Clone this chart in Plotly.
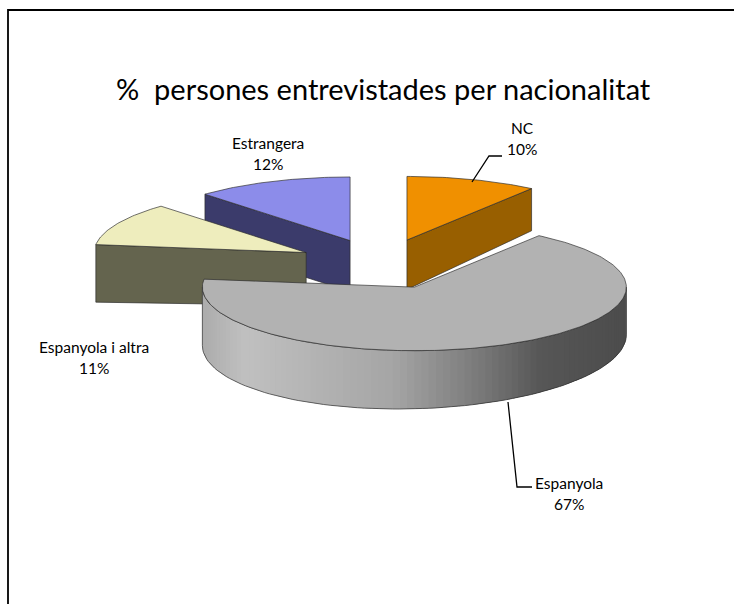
import numpy as np
import plotly.graph_objects as go

# ---------------- data ----------------
categories = ["NC", "Espanyola", "Espanyola i altra", "Estrangera"]
values = [10, 67, 11, 12]
title_text = "%  persones entrevistades per nacionalitat"

# ---------------- styles / geometry ----------------
top_colors = {"NC": (240, 144, 0), "Espanyola": (178, 178, 178),
              "Espanyola i altra": (238, 237, 189), "Estrangera": (140, 140, 234)}
side_colors = {"NC": (152, 95, 0), "Espanyola": (150, 150, 150),
               "Espanyola i altra": (100, 100, 78), "Estrangera": (59, 59, 107)}
W, H = 734, 604
CX, CY = 381, 264          # pie centre (pixel space)
RX, K = 212, 0.30          # horizontal radius, tilt ratio
RY = RX * K
EXPLODE = 84
EDGE = "rgba(45,45,45,0.85)"
FONT = "Lato"
LABEL_SIZE = 15.5

def height_at(x, y):
    return 52 - 0.025 * (x - CX) + 0.08 * (y - CY)

def rgb(c):
    return "rgb(%d,%d,%d)" % tuple(int(round(v)) for v in c)

total = float(sum(values))
angles = np.cumsum([0] + [v / total * 360 for v in values])

fig = go.Figure()

def poly(xs, ys, fill, line=EDGE, lw=0.8):
    fig.add_trace(go.Scatter(x=list(xs) + [xs[0]], y=list(ys) + [ys[0]], mode="lines",
                             fill="toself", fillcolor=fill,
                             line=dict(color=line, width=lw),
                             hoverinfo="skip", showlegend=False))

def gray_shade(th):
    # brightness by horizontal position on the front wall
    t = (np.sin(np.radians(th)) + 1) / 2
    tp = [0.0, 0.1, 0.45, 0.65, 0.8, 1.0]
    bp = [172, 192, 165, 122, 86, 76]
    return float(np.interp(t, tp, bp))

slices = []
for i, cat in enumerate(categories):
    a0, a1 = angles[i], angles[i + 1]
    b = np.radians((a0 + a1) / 2)
    cx = CX + EXPLODE * np.sin(b)
    cy = CY - EXPLODE * K * np.cos(b)
    slices.append((cat, a0, a1, cx, cy))

def P(cx, cy, th):
    r = np.radians(th)
    return cx + RX * np.sin(r), cy - RY * np.cos(r)

# painter order: back to front
order = ["NC", "Estrangera", "Espanyola i altra", "Espanyola"]
for cat in order:
    _, a0, a1, cx, cy = [s for s in slices if s[0] == cat][0]
    # outer curved wall (front half only)
    w0, w1 = max(a0, 90), min(a1, 270)
    if w1 > w0:
        n = int((w1 - w0) / 2) + 2
        ths = np.linspace(w0, w1, n + 1)
        step = ths[1] - ths[0]
        for j in range(n):
            t0, t1 = ths[j], min(ths[j + 1] + 0.8 * step, w1)
            x0, y0 = P(cx, cy, t0)
            x1, y1 = P(cx, cy, t1)
            xm, ym = P(cx, cy, (t0 + t1) / 2)
            if cat == "Espanyola":
                v = gray_shade((ths[j] + ths[j + 1]) / 2)
                col = rgb((v, v, v))
            else:
                col = rgb(side_colors[cat])
            fig.add_trace(go.Scatter(
                x=[x0, xm, x1, x1, xm, x0, x0],
                y=[y0, ym, y1, y1 + height_at(x1, y1), ym + height_at(xm, ym),
                   y0 + height_at(x0, y0), y0],
                mode="none", fill="toself", fillcolor=col,
                hoverinfo="skip", showlegend=False))
        tx, ty = zip(*[P(cx, cy, t) for t in ths])
        bx = list(tx)[::-1]
        by = [y + height_at(x, y) for x, y in zip(tx, ty)][::-1]
        fig.add_trace(go.Scatter(x=list(tx) + bx + [tx[0]], y=list(ty) + by + [ty[0]],
                                 mode="lines", line=dict(color=EDGE, width=0.8),
                                 hoverinfo="skip", showlegend=False))
    # radial cut faces
    for th, vis in ((a1, np.sin(np.radians(a1)) > 0.01), (a0, np.sin(np.radians(a0)) < -0.01)):
        if vis:
            ex, ey = P(cx, cy, th)
            poly([cx, ex, ex, cx],
                 [cy, ey, ey + height_at(ex, ey), cy + height_at(cx, cy)],
                 rgb(side_colors[cat]))
    # top face
    ths = np.linspace(a0, a1, int(a1 - a0) + 2)
    px, py = zip(*[P(cx, cy, t) for t in ths])
    poly([cx] + list(px), [cy] + list(py), rgb(top_colors[cat]))

# ---------------- labels ----------------
label_pos = {"NC": (522, 128), "Estrangera": (268, 143),
             "Espanyola i altra": (94, 347), "Espanyola": (569, 483)}
leaders = {"NC": ([472, 489, 502], [182, 156, 156]),
           "Espanyola": ([508, 517, 532], [402, 487, 487])}
for cat, (lx, ly) in leaders.items():
    fig.add_trace(go.Scatter(x=lx, y=ly, mode="lines", line=dict(color="black", width=1.3),
                             hoverinfo="skip", showlegend=False))

annotations = []
for cat, v in zip(categories, values):
    x, y = label_pos[cat]
    pct = "%d%%" % round(v / total * 100)
    annotations.append(dict(x=x, y=y, xref="x", yref="y", text=cat, showarrow=False,
                            font=dict(family=FONT, size=LABEL_SIZE, color="black")))
    annotations.append(dict(x=x, y=y + 20.5, xref="x", yref="y", text=pct, showarrow=False,
                            font=dict(family=FONT, size=LABEL_SIZE, color="black")))
annotations.append(dict(x=383, y=88, xref="x", yref="y", text=title_text, showarrow=False,
                        font=dict(family=FONT, size=29, color="black")))

fig.update_layout(
    width=W, height=H, margin=dict(l=0, r=0, t=0, b=0),
    paper_bgcolor="white", plot_bgcolor="white",
    xaxis=dict(range=[0, W], visible=False, fixedrange=True),
    yaxis=dict(range=[H, 0], visible=False, fixedrange=True),
    annotations=annotations,
    shapes=[dict(type="rect", xref="x", yref="y", x0=8, y0=10, x1=W + 20, y1=H + 20,
                 line=dict(color="black", width=1.8), fillcolor="rgba(0,0,0,0)", layer="above")],
)
fig.write_html("out.html")
